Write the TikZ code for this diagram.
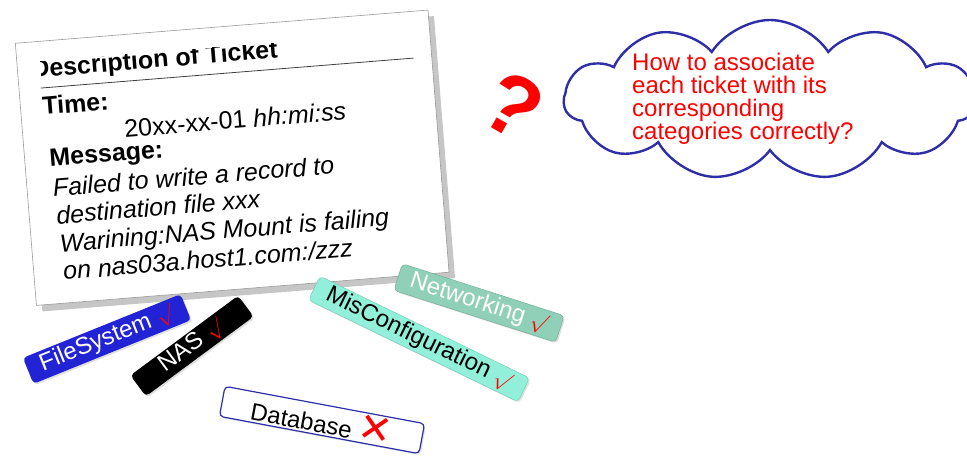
\documentclass[tikz,border=0pt]{standalone}
\usepackage{fontspec}
\setmainfont{Liberation Sans}
\newfontfamily\symfont{DejaVu Sans}
\usetikzlibrary{shapes.symbols, shadows, positioning}
\definecolor{tkBlue}{HTML}{2323D6}
\definecolor{tkCloud}{HTML}{2E2EA8}
\definecolor{tkAqua}{HTML}{92F0DA}
\definecolor{tkAquaEdge}{HTML}{6CC9B0}
\definecolor{tkSea}{HTML}{90D0B8}
\definecolor{tkSeaEdge}{HTML}{6AA892}
\definecolor{tkRed}{HTML}{FF0000}
\definecolor{tkPaper}{HTML}{9A9A9A}
\newcommand{\tagok}{\ \textcolor{tkRed}{\fontsize{21}{21}\selectfont$\surd$}}
\newcommand{\tagno}{\ \textcolor{tkRed}{\symfont\fontsize{40}{24}\selectfont ✕}}
\tikzset{
  card/.style     = {draw=tkPaper, fill=white, line width=0.6pt, inner sep=0pt,
                     minimum width=414pt, minimum height=263pt,
                     drop shadow={shadow xshift=6pt, shadow yshift=-6pt, opacity=.45, fill=gray}},
  cardhead/.style = {font=\bfseries\fontsize{25}{25}\selectfont, inner sep=0pt},
  cardtxt/.style  = {font=\fontsize{25}{25}\selectfont, inner sep=0pt},
  msgline/.style  = {font=\itshape\fontsize{25}{25}\selectfont, inner sep=0pt},
  tag/.style      = {rounded corners=4pt, minimum height=28pt, inner sep=2pt,
                     font=\fontsize{24}{24}\selectfont,
                     drop shadow={shadow xshift=1.5pt, shadow yshift=-1.5pt, opacity=.25}},
  qmark/.style    = {text=tkRed, font=\bfseries\fontsize{86}{86}\selectfont, rotate=-30},
  bubble/.style   = {cloud, cloud puffs=11, cloud puff arc=115, aspect=2.5,
                     draw=tkCloud, line width=2.4pt, inner sep=0pt,
                     minimum width=412pt, minimum height=160pt},
  asktext/.style  = {text=tkRed, align=left, inner sep=0pt, font=\fontsize{24}{23}\selectfont},
}
\begin{document}
\begin{tikzpicture}[x=1pt,y=1pt]
  \useasboundingbox (0,0) rectangle (967,458);

  % the ticket card, in its own tilted frame
  \begin{scope}[shift={(15,415)}, rotate=4.6, transform shape]
    \node[card, anchor=north west] (ticket) at (0,0) {};
    \begin{scope}
      \clip (23,-20) rectangle (414,-263);
      \node[cardhead, anchor=base west] (title) at (14,-36) {Description of Ticket};
    \end{scope}
    \draw[line width=0.8pt, black!75] (22,-47) -- (396,-47);
    \node[cardhead, anchor=base west] (timelbl) at (22,-74) {Time:};
    \node[cardtxt, anchor=base west] (timeval) at (102,-103) {20xx-xx-01 \textit{hh:mi:ss}};
    \node[cardhead, anchor=base west] (msglbl) at (25,-126) {Message:};
    \foreach \t [count=\i from 0] in {{Failed to write a record to}, {destination file xxx},
        {Warining:NAS Mount is failing}, {on nas03a.host1.com:/zzz}}
      \node[msgline, anchor=base west] (msg\i) at ({26+1.2*\i}, {-156-28*\i}) {\t};
  \end{scope}

  \node[qmark] (ask) at (513,352) {?};

  \node[bubble] (thought) at (770,358) {};
  \node[asktext, anchor=north west] (question) at (632,405)
    {How to associate\\each ticket with its\\corresponding\\categories correctly?};

  % category tags
  \node[tag, draw=tkSeaEdge, fill=tkSea, text=white, rotate=-17.8, minimum width=170pt] (net) at (479,155) {Networking\tagok};
  \node[tag, draw=tkAquaEdge, fill=tkAqua, rotate=-25.9, minimum width=233pt, minimum height=26pt] (mis) at (419,119) {MisConfiguration\tagok};
  \node[tag, fill=tkBlue, text=white, rotate=22, minimum width=170pt] (fs) at (107,119) {FileSystem\tagok};
  \node[tag, fill=black, text=white, rotate=36.5, minimum width=134pt, minimum height=26pt] (nas) at (192,112) {NAS\tagok};
  \node[tag, draw=tkCloud, line width=1.2pt, fill=white, rotate=-10.6, minimum width=203pt] (db) at (322,38) {Database\tagno};
\end{tikzpicture}
\end{document}
